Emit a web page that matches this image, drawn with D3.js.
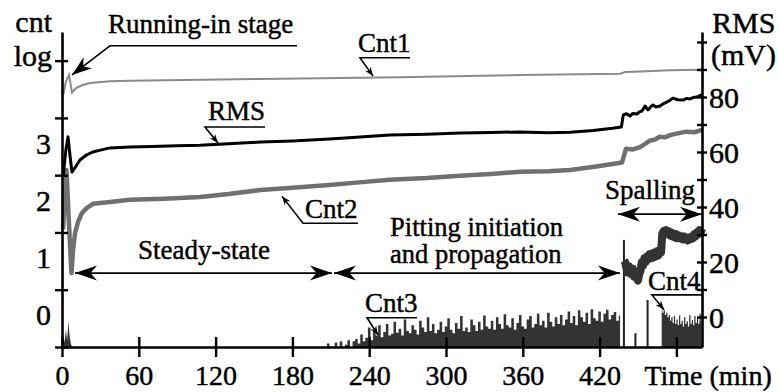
<!DOCTYPE html>
<html>
<head>
<meta charset="utf-8">
<script src="https://cdn.jsdelivr.net/npm/d3@7"></script>
<style>
  body { margin: 0; background: #fff; }
  svg { display: block; }
  svg text { font-family: "Liberation Serif", Tinos, "Times New Roman", "DejaVu Serif", serif; fill: #000; stroke: #000; stroke-width: 0.45px; }
</style>
</head>
<body>
<svg id="chart" width="780" height="392"></svg>
<script>
// axis ticks
const xTicks = [0, 60, 120, 180, 240, 300, 360, 420, 480];
const xTickLabels = ['0', '60', '120', '180', '240', '300', '360', '420', ''];
const leftTicks = [-0.5, 0.5, 1.5, 2.5, 3.5, 4.5];
const leftLabels = [0, 1, 2, 3];
const rightTicks = [0, 10, 20, 30, 40, 50, 60, 70, 80, 90, 100];
const rightLabels = [0, 20, 40, 60, 80];

// RMS (mV, right axis)
const rmsTime = [1, 3, 4.7, 6.2, 7.8, 11, 14, 19, 24, 30, 37.5, 53, 70, 90, 108, 130, 155, 180, 209, 230, 256, 285, 311, 335, 358, 380, 397, 415, 430, 437,
  438.5, 441, 443.7, 446, 449.2, 451, 453.1, 455.5, 457.8, 459.5, 461.7, 464, 467.2, 470, 472.7, 475, 477.3, 481, 485.2, 488, 490.6, 493, 496, 498, 500];
const rmsVal = [51.6, 60.7, 65.5, 58.9, 52.7, 54.9, 57.1, 58.9, 60.0, 60.7, 61.5, 61.8, 62.0, 62.3, 62.5, 63.0, 63.6, 64.0, 64.7, 65.4, 66.2, 66.5, 66.9, 67.1, 67.3, 67.0, 67.2, 67.8, 68.6, 69.1,
  73.5, 73.9, 73.1, 74.0, 73.8, 74.6, 74.9, 76.7, 75.3, 76.2, 77.1, 76.4, 76.7, 77.6, 78.2, 78.8, 79.6, 79.0, 78.9, 79.5, 79.3, 79.8, 80.0, 80.4, 80.9];

// Cnt1 (log count, left axis)
const cnt1Time = [1, 3, 5.5, 7.8, 11, 15.6, 22, 37.5, 53, 155, 264, 358, 436, 440, 452, 475, 500];
const cnt1Val = [3.90, 4.13, 4.25, 3.94, 4.02, 4.07, 4.11, 4.14, 4.15, 4.18, 4.21, 4.25, 4.27, 4.30, 4.31, 4.33, 4.34];

// Cnt2 (log count, left axis)
const cnt2Time = [0.8, 3.5, 5.5, 7.4, 8.6, 10.2, 12.5, 15.6, 19.5, 24.2, 37.5, 53, 80, 108, 130, 155, 180, 209, 230, 256, 285, 311, 335, 358, 380, 397, 420, 437.5,
  440.6, 446, 451.6, 455, 459, 463, 467, 471, 475, 481, 488, 494, 500];
const cnt2Val = [1.55, 2.59, 1.63, 0.79, 1.19, 1.49, 1.68, 1.84, 1.93, 2.00, 2.03, 2.07, 2.09, 2.12, 2.17, 2.24, 2.28, 2.33, 2.37, 2.42, 2.45, 2.49, 2.52, 2.56, 2.57, 2.59, 2.66, 2.72,
  2.96, 2.95, 2.99, 3.04, 3.10, 3.12, 3.17, 3.16, 3.20, 3.23, 3.26, 3.25, 3.29];

// Cnt3 (log count, bursts at the bottom)
const cnt3EarlyTime = [0, 1, 2, 3, 4, 5, 6, 7, 8];
const cnt3EarlyVal = [-0.5, -0.3, -0.42, -0.2, -0.38, -0.06, -0.32, -0.45, -0.5];
const cnt3Time = d3.range(206, 437, 2);
const cnt3Val = [
  -0.5, -0.44, -0.5, -0.5, -0.42, -0.5, -0.4, -0.5, -0.46, -0.38, -0.5, -0.4,
  -0.36, -0.44, -0.28, -0.4, -0.34, -0.16, -0.38, -0.22, -0.3, -0.12, -0.33, -0.24,
  -0.1, -0.3, -0.27, -0.06, -0.25, -0.18, -0.3, -0.02, -0.22, -0.26, -0.12, -0.2,
  -0.28, -0.04, -0.16, -0.24, 0.02, -0.22, -0.1, -0.26, -0.2, -0.06, -0.24, -0.14,
  0.0, -0.2, -0.26, -0.08, -0.18, 0.04, -0.22, -0.16, -0.24, -0.02, -0.12, -0.22,
  -0.06, -0.2, 0.05, -0.14, -0.18, -0.04, -0.2, 0.02, -0.1, -0.18, 0.07, -0.12,
  -0.16, 0.0, -0.2, -0.08, 0.06, -0.14, -0.18, -0.02, 0.04, -0.16, -0.1, 0.08,
  -0.12, -0.04, -0.16, 0.1, -0.06, -0.14, 0.02, -0.1, 0.06, -0.12, -0.02, 0.12,
  -0.08, 0.04, -0.12, 0.14, 0.02, -0.06, 0.1, -0.1, 0.16, 0.0, -0.04, 0.12,
  -0.06, 0.08, 0.15, -0.02, 0.06, 0.11, -0.04, 0.05];
// isolated spikes after the pitting stage
const spikeTime = [439, 448, 457.5];
const spikeVal = [1.37, -0.26, 0.32];
// Cnt3 band in the spalling stage
const bandTime = d3.range(439, 501, 1);
const bandVal = [
  1.01, 0.98, 0.87, 0.80, 0.91, 0.84, 0.77, 0.87, 0.73, 0.80, 0.70, 0.66, 0.77, 0.84, 0.98, 0.92,
  1.05, 0.98, 1.08, 1.03, 1.12, 1.05, 1.13, 1.06, 1.15, 1.08, 1.17, 1.10, 1.19, 1.15, 1.48, 1.52,
  1.47, 1.54, 1.48, 1.52, 1.45, 1.50, 1.43, 1.48, 1.41, 1.47, 1.40, 1.45, 1.40, 1.43, 1.38, 1.43,
  1.38, 1.41, 1.36, 1.41, 1.38, 1.43, 1.40, 1.47, 1.43, 1.50, 1.47, 1.54, 1.50, 1.57];
// Cnt4
const cnt4Time = d3.range(468.5, 500.5, 1);
const cnt4Val = [
  0.16, 0.1, 0.14, 0.06, 0.1, 0.02, 0.06, -0.04, 0.02, -0.08, 0.04, -0.1, -0.02, -0.12, 0.05, -0.1,
  -0.04, -0.14, 0.02, -0.1, -0.05, -0.14, 0.06, -0.1, -0.03, -0.12, 0.04, -0.08, 0.0, -0.1, 0.08, -0.05];

const svg = d3.select('#chart');

const x = d3.scaleLinear().domain([0, 500]).range([62, 702]);
const yL = d3.scaleLinear().domain([-0.5, 5]).range([347, 32]);
const yR = d3.scaleLinear().domain([-10.91, 103.64]).range([347, 32]);

const zip = (t, v) => t.map((d, i) => [d, v[i]]);

// arrowhead pointing along ang, tip at (px, py)
function head(px, py, ang, len, w) {
  const c = Math.cos(ang), s = Math.sin(ang);
  const bx = px - c * len, by = py - s * len;
  const nx = -s, ny = c;
  const mx = px - c * len * 0.7, my = py - s * len * 0.7;
  return `M${px},${py}L${bx + nx * w},${by + ny * w}L${mx},${my}L${bx - nx * w},${by - ny * w}Z`;
}

// ---- data marks
const area = d3.area().x(d => x(d[0])).y0(yL(-0.5)).y1(d => yL(d[1]));
const stepArea = d3.area().curve(d3.curveStep).x(d => x(d[0])).y0(yL(-0.5)).y1(d => yL(d[1]));
const lineL = d3.line().x(d => x(d[0])).y(d => yL(d[1]));
const lineR = d3.line().x(d => x(d[0])).y(d => yR(d[1]));

svg.append('path').datum(zip(cnt3EarlyTime, cnt3EarlyVal))
  .attr('d', area).attr('fill', '#333');
svg.append('path').datum(zip(cnt3Time, cnt3Val))
  .attr('d', stepArea).attr('fill', '#333');
svg.append('path').datum([[468.5, -0.5]].concat(zip(cnt4Time, cnt4Val)))
  .attr('d', stepArea).attr('fill', '#333');

svg.selectAll('.spike').data(zip(spikeTime, spikeVal)).enter().append('line')
  .attr('class', 'spike')
  .attr('x1', d => x(d[0])).attr('x2', d => x(d[0]))
  .attr('y1', yL(-0.5)).attr('y2', d => yL(d[1]))
  .attr('stroke', '#222').attr('stroke-width', 2);

svg.append('path').datum(zip(bandTime, bandVal))
  .attr('d', lineL).attr('fill', 'none')
  .attr('stroke', '#333').attr('stroke-width', 8).attr('stroke-linejoin', 'round');

svg.append('path').datum(zip(cnt2Time, cnt2Val))
  .attr('d', lineL).attr('fill', 'none')
  .attr('stroke', '#707070').attr('stroke-width', 4.5).attr('stroke-linejoin', 'round');

svg.append('path').datum(zip(cnt1Time, cnt1Val))
  .attr('d', lineL).attr('fill', 'none')
  .attr('stroke', '#8a8a8a').attr('stroke-width', 2);

svg.append('path').datum(zip(rmsTime, rmsVal))
  .attr('d', lineR).attr('fill', 'none')
  .attr('stroke', '#000').attr('stroke-width', 3).attr('stroke-linejoin', 'round');

// ---- axes
const axisStyle = g => {
  g.attr('font-family', null);
  g.select('.domain').attr('stroke', '#000').attr('stroke-width', 2.6);
  g.selectAll('.tick line').attr('stroke', '#000').attr('stroke-width', 2.4);
};

svg.append('g')
  .attr('transform', `translate(0, ${yL(-0.5)})`)
  .call(d3.axisBottom(x).tickValues(xTicks).tickSizeOuter(0)
    .tickFormat((d, i) => xTickLabels[i]))
  .call(axisStyle)
  .call(g => g.selectAll('.tick line').attr('y1', -10).attr('y2', 10))
  .call(g => g.selectAll('.tick text').attr('y', 38).attr('dy', 0).attr('font-size', 28));

svg.append('g')
  .attr('transform', `translate(${x(0)}, 0)`)
  .call(d3.axisLeft(yL).tickValues(leftTicks).tickSizeOuter(0).tickFormat(''))
  .call(axisStyle)
  .call(g => g.selectAll('.tick line').attr('x1', -7).attr('x2', 6));

svg.append('g')
  .attr('transform', `translate(${x(500)}, 0)`)
  .call(d3.axisRight(yR).tickValues(rightTicks).tickSizeOuter(0)
    .tickFormat(d => rightLabels.includes(d) ? d : ''))
  .call(axisStyle)
  .call(g => g.selectAll('.tick line').attr('x1', -5).attr('x2', 5))
  .call(g => g.selectAll('.tick text').attr('x', 7).attr('dy', '0.36em').attr('font-size', 30));

// left labels sit between the ticks
svg.selectAll('.lLab').data(leftLabels).enter().append('text')
  .attr('class', 'lLab')
  .attr('x', x(0) - 11).attr('y', d => yL(d) + 7)
  .attr('text-anchor', 'end').attr('font-size', 30)
  .text(d => d);

svg.append('text').attr('x', x(0) - 10).attr('y', 32)
  .attr('text-anchor', 'end').attr('font-size', 30).text('cnt');
svg.append('text').attr('x', x(0) - 10).attr('y', yL(4.5) + 5)
  .attr('text-anchor', 'end').attr('font-size', 30).text('log');
svg.append('text').attr('x', x(500) + 10).attr('y', 33)
  .attr('font-size', 30).text('RMS');
svg.append('text').attr('x', x(500) + 9).attr('y', 65)
  .attr('font-size', 30).text('(mV)');
svg.append('text').attr('x', x(455)).attr('y', 385)
  .attr('font-size', 28).text('Time (min)');

// ---- annotations (time, log-count positions)
const ann = svg.append('g').attr('font-size', 27);

function label(txt, t, v, size) {
  ann.append('text').attr('x', x(t)).attr('y', yL(v))
    .attr('font-size', size || null).text(txt);
}
function leader(t0, t1, v, tipT, tipV, len, w) {
  const p = [x(t0), yL(v)], q = [x(t1), yL(v)], tip = [x(tipT), yL(tipV)];
  ann.append('path')
    .attr('d', `M${q[0]},${q[1]}L${p[0]},${p[1]}L${tip[0]},${tip[1]}`)
    .attr('fill', 'none').attr('stroke', '#000').attr('stroke-width', 1.6);
  const ang = Math.atan2(tip[1] - p[1], tip[0] - p[0]);
  ann.append('path').attr('d', head(tip[0], tip[1], ang, len, w)).attr('fill', '#000');
}
function span(t0, t1, v) {
  const a = x(t0), b = x(t1), yy = yL(v);
  ann.append('line').attr('x1', a).attr('x2', b).attr('y1', yy).attr('y2', yy)
    .attr('stroke', '#000').attr('stroke-width', 1.8);
  ann.append('path').attr('d', head(a, yy, Math.PI, 22, 7.5)).attr('fill', '#000');
  ann.append('path').attr('d', head(b, yy, 0, 22, 7.5)).attr('fill', '#000');
}

label('Running-in stage', 35.9, 4.98);
leader(37.5, 183.6, 4.76, 7.8, 4.25, 20, 7);
label('Cnt1', 231.3, 4.65);
leader(232.8, 271.9, 4.55, 243, 4.23, 9, 3.5);
label('RMS', 114, 3.46);
leader(111.7, 158.6, 3.34, 121.9, 3.06, 9, 3.5);
label('Cnt2', 189.8, 1.75);
leader(188.3, 231.3, 1.66, 171.9, 2.13, 9, 3.5);
label('Cnt3', 236.7, 0.11);
leader(238.3, 277.3, 0.01, 246.9, -0.29, 9, 3.5);
label('Cnt4', 457.8, 0.5);
leader(460.9, 500, 0.41, 470.3, 0.15, 9, 3.5);

label('Steady-state', 59.4, 1.04);
span(10.2, 210.9, 0.79);
label('Pitting initiation', 256.3, 1.44, 26.5);
label('and propagation', 256.3, 0.97, 26.5);
span(212.5, 435.9, 0.79);
label('Spalling', 424.2, 2.08);
span(434.4, 500, 1.82);
</script>
</body>
</html>
